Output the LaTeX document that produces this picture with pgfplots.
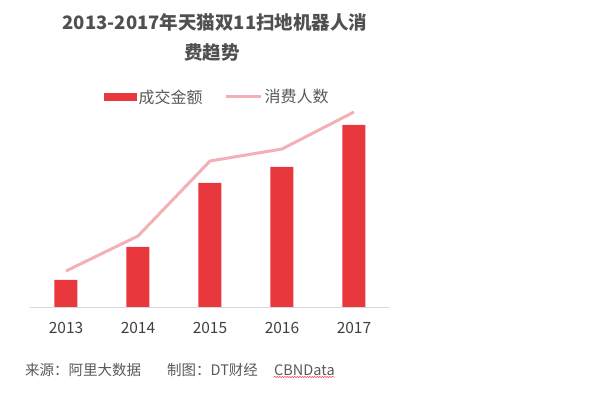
\documentclass[border=0pt]{standalone}
\usepackage{pgfplots}
\pgfplotsset{compat=1.18}
\usepackage{fontspec}
\setmainfont{Noto Sans CJK SC}
\usetikzlibrary{decorations.pathmorphing}
\definecolor{barred}{HTML}{E8383D}
\definecolor{linepink}{HTML}{F3B0B7}
\definecolor{txtgray}{HTML}{595959}
\definecolor{tickgray}{HTML}{404040}
\definecolor{titlegray}{HTML}{505050}
\definecolor{axisgray}{HTML}{D9D9D9}
\begin{document}
\begin{tikzpicture}
\useasboundingbox (0,0) rectangle (600bp,397bp);
\node[font=\fontsize{18.5bp}{22bp}\selectfont\bfseries, text=titlegray] at (215bp,375bp) {2013-2017年天猫双11扫地机器人消};
\node[font=\fontsize{18.5bp}{22bp}\selectfont\bfseries, text=titlegray] at (212bp,344bp) {费趋势};
\begin{axis}[
  at={(30bp,90bp)}, anchor=south west,
  scale only axis, width=360bp, height=200bp,
  xmin=-0.5, xmax=4.5, ymin=0, ymax=200,
  axis x line*=bottom, hide y axis,
  x axis line style={draw=axisgray, line width=0.8bp, -},
  xtick={0,1,2,3,4}, xticklabels={2013,2014,2015,2016,2017},
  major tick length=0pt,
  xticklabel style={font=\fontsize{15.5bp}{18bp}\selectfont, text=tickgray, yshift=-12bp},
  /pgf/number format/assume math mode=true,
  clip=false,
  legend columns=2,
  legend style={at={(0.52,1.05)}, anchor=center, draw=none, fill=none,
    font=\fontsize{16bp}{19bp}\selectfont, text=txtgray,
    /tikz/every even column/.append style={column sep=20bp}},
]
\addplot[ybar, bar width=23bp, bar shift=0pt, fill=barred, draw=none,
  legend image code/.code={\fill[barred] (0bp,-4bp) rectangle (33bp,4bp);}]
  coordinates {(0,27) (1,60) (2,124) (3,140) (4,182)};
\addlegendentry{成交金额}
\addplot[linepink, line width=3bp, mark=none, sharp plot,
  legend image code/.code={\draw[linepink, line width=3bp] (0bp,0bp) -- (35bp,0bp);}]
  coordinates {(0,36) (1,71) (2,146) (3,158) (4,195)};
\addlegendentry{消费人数}
\end{axis}
\node[anchor=west, font=\fontsize{14.5bp}{17bp}\selectfont, text=txtgray, inner sep=0pt] at (25bp,27bp) {来源：阿里大数据};
\node[anchor=west, font=\fontsize{14.5bp}{17bp}\selectfont, text=txtgray, inner sep=0pt] at (167bp,27bp) {制图：DT财经};
\node[anchor=west, font=\fontsize{14.5bp}{17bp}\selectfont, text=txtgray, inner sep=0pt] at (274bp,27bp) {CBNData};
\draw[red!80, line width=0.5bp, decorate, decoration={snake, amplitude=0.6bp, segment length=2.5bp}] (274bp,20bp) -- (334bp,20bp);
\end{tikzpicture}
\end{document}
